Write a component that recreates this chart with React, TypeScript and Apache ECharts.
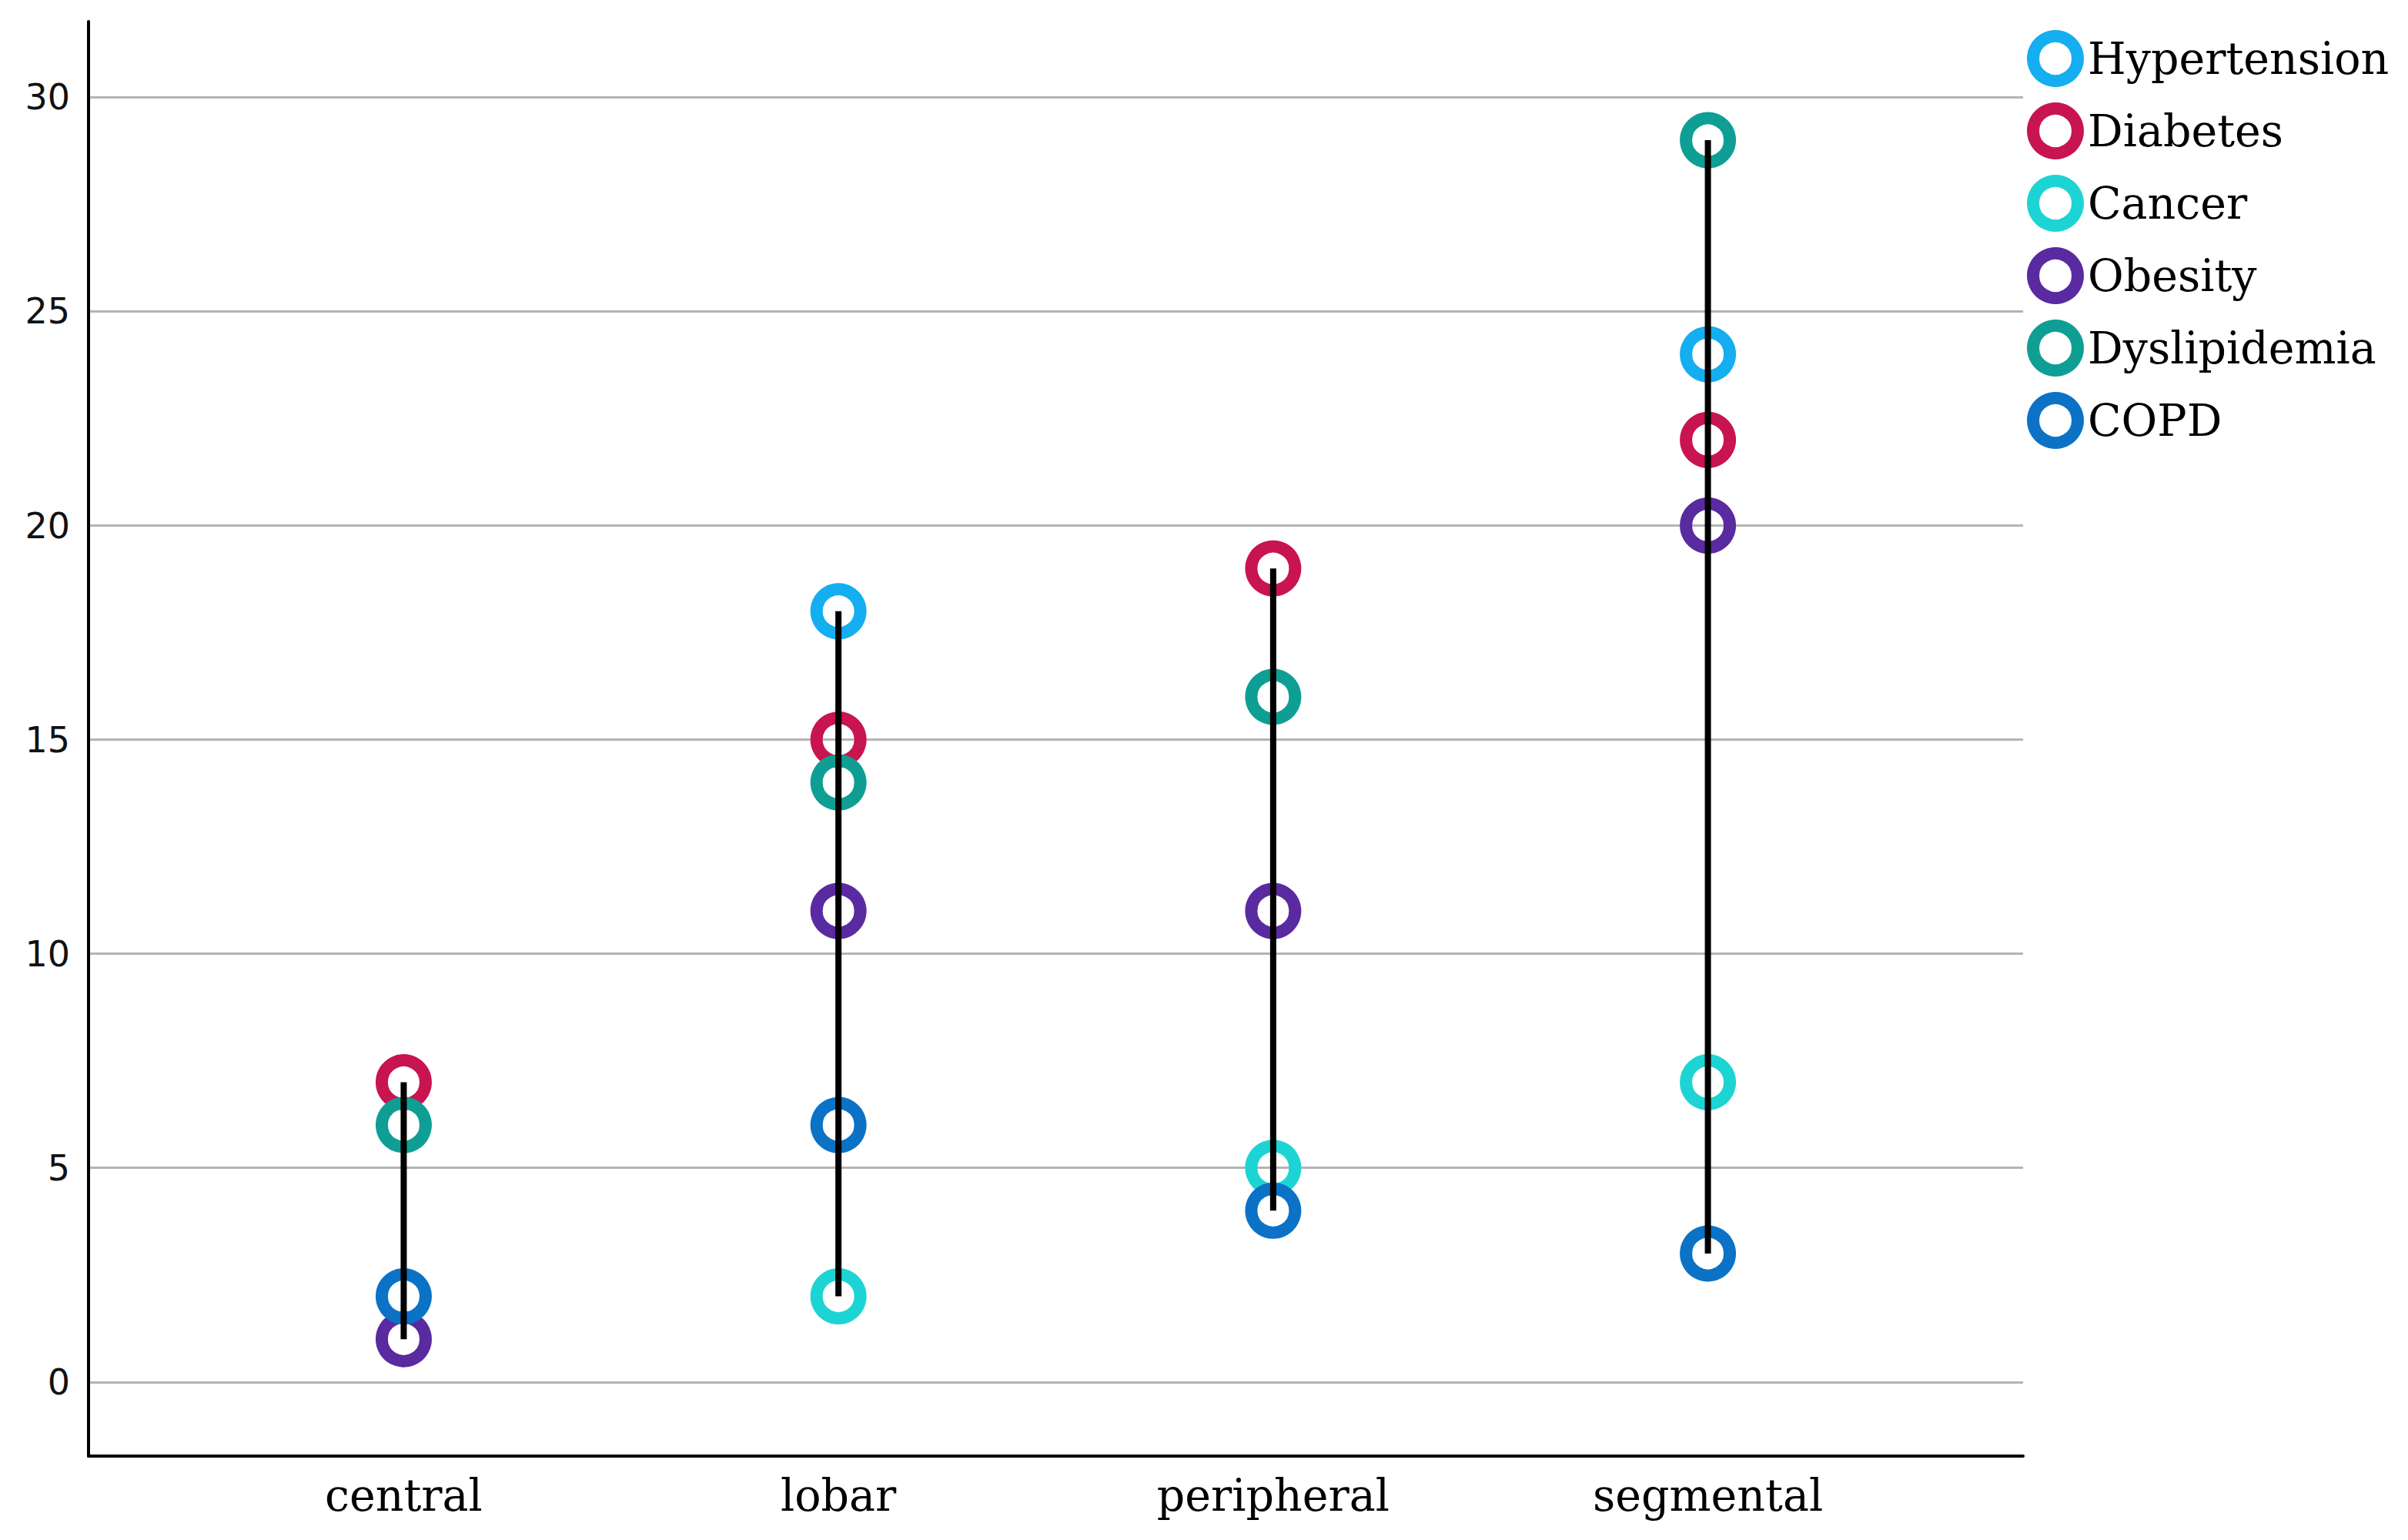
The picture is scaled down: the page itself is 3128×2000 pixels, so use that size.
import React, { useEffect, useRef } from "react";
import * as echarts from "echarts";

const categories = ["central", "lobar", "peripheral", "segmental"];
const seriesNames = ["Hypertension", "Diabetes", "Cancer", "Obesity", "Dyslipidemia", "COPD"];
const hypertension = [null, 18, null, 24];
const diabetes = [7, 15, 19, 22];
const cancer = [null, 2, 5, 7];
const obesity = [1, 11, 11, 20];
const dyslipidemia = [6, 14, 16, 29];
const copd = [2, 6, 4, 3];
const colors = ["#15aef0", "#c8144f", "#1dd4d4", "#5a2aa0", "#0f9e94", "#0b72c6"];
const yTicks = [0, 5, 10, 15, 20, 25, 30];

const allValues = [hypertension, diabetes, cancer, obesity, dyslipidemia, copd];

export default function App() {
  const ref = useRef<HTMLDivElement>(null);
  useEffect(() => {
    if (!ref.current) return;
    const chart = echarts.init(ref.current, null, { renderer: "svg" });
    const ranges = categories.map((_, i) => {
      const vals = allValues.map((a) => a[i]).filter((v) => v !== null) as number[];
      return [i, Math.min(...vals), Math.max(...vals)];
    });
    const scatterSeries = allValues.map((arr, k) => ({
      type: "scatter",
      name: seriesNames[k],
      symbol: "circle",
      symbolSize: 57,
      itemStyle: { color: "rgba(255,255,255,0)", borderColor: colors[k], borderWidth: 16, opacity: 1 },
      data: arr.map((v, i) => (v === null ? null : [i, v])).filter((d) => d !== null),
      z: 2,
    }));
    chart.setOption({
      animation: false,
      backgroundColor: "#ffffff",
      legend: {
        orient: "vertical",
        left: 2628,
        top: 34,
        itemWidth: 58,
        itemHeight: 58,
        itemGap: 20,
        icon: "circle",
        data: seriesNames.map((n, k) => ({
          name: n,
          itemStyle: { color: "rgba(255,255,255,0)", borderColor: colors[k], borderWidth: 16 },
        })),
        textStyle: { fontFamily: "DejaVu Serif", fontSize: 57, color: "#000", padding: [0, 0, 0, 8] },
      },
      grid: { left: 115, right: 500, top: 28, bottom: 109, containLabel: false, outerBoundsMode: "none" },
      xAxis: {
        type: "value",
        min: -0.725,
        max: 3.725,
        axisLine: { show: true, onZero: false, lineStyle: { color: "#000", width: 4 } },
        axisTick: { show: false },
        splitLine: { show: false },
        axisLabel: {
          customValues: [0, 1, 2, 3],
          formatter: (v: number) => (Number.isInteger(v) && categories[v] ? categories[v] : ""),
          fontFamily: "DejaVu Serif",
          fontSize: 57,
          color: "#000",
          margin: 22,
        },
      },
      yAxis: {
        type: "value",
        min: -1.73,
        max: 31.77,
        axisLine: { show: true, onZero: false, lineStyle: { color: "#000", width: 4 } },
        axisTick: { show: false },
        splitLine: { show: true, showMinLine: false, showMaxLine: false, lineStyle: { color: "#b4b4b4", width: 3 } },
        axisLabel: {
          formatter: (v: number) => (yTicks.includes(v) ? String(v) : ""),
          fontFamily: "DejaVu Sans",
          fontSize: 46,
          color: "#111",
          margin: 24,
          showMinLabel: false,
          showMaxLabel: false,
        },
      },
      series: [
        ...scatterSeries,
        {
          type: "custom",
          name: "range",
          z: 3,
          encode: { x: 0, y: [1, 2] },
          data: ranges,
          renderItem: (params: any, api: any) => {
            const x = api.value(0);
            const p1 = api.coord([x, api.value(1)]);
            const p2 = api.coord([x, api.value(2)]);
            return {
              type: "line",
              shape: { x1: p1[0], y1: p1[1], x2: p2[0], y2: p2[1] },
              style: { stroke: "#000", lineWidth: 8 },
            };
          },
        },
      ],
    });
    return () => chart.dispose();
  }, []);
  return (
    <div
      ref={ref}
      style={{ position: "fixed", left: 0, top: 0, width: 3128, height: 2000, background: "#fff" }}
    />
  );
}
